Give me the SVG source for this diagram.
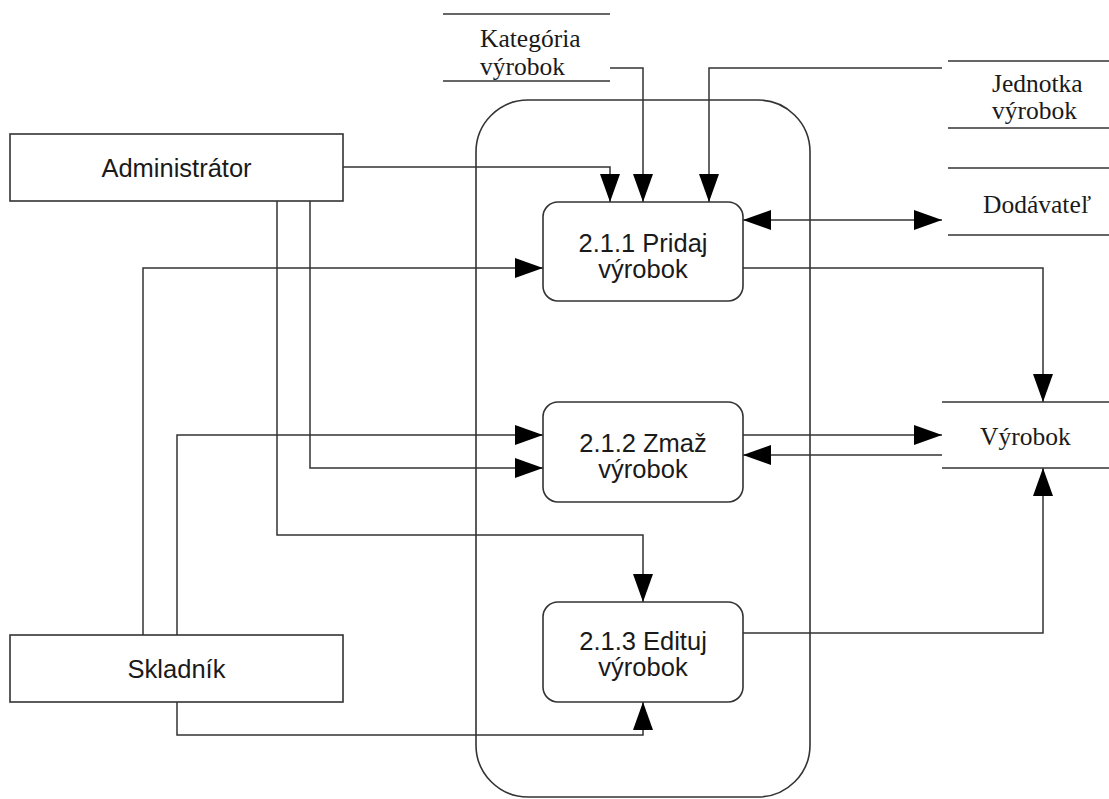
<svg xmlns="http://www.w3.org/2000/svg" width="1109" height="799" viewBox="0 0 1109 799">
  <style>
    .bg { fill: #ffffff; }
    .entity { fill: #ffffff; stroke: #333333; stroke-width: 1.6; }
    .proc { fill: #ffffff; stroke: #333333; stroke-width: 1.6; }
    .frame { fill: none; stroke: #333333; stroke-width: 1.6; }
    .store { stroke: #333333; stroke-width: 1.6; fill: none; }
    .flow { fill: none; stroke: #333333; stroke-width: 1.5; marker-end: url(#arrow); }
    .sans { font-family: "Liberation Sans", Arial, sans-serif; font-size: 25.5px; fill: #1a1a1a; text-anchor: middle; }
    .serif { font-family: "Liberation Serif", "Times New Roman", serif; font-size: 25.5px; fill: #1a1a1a; }
  </style>
  <defs>
    <marker id="arrow" markerUnits="userSpaceOnUse" markerWidth="28" markerHeight="20" refX="28" refY="10" orient="auto-start-reverse" viewBox="0 0 28 20">
      <path d="M0,0 L28,10 L0,20 z" fill="#000000"/>
    </marker>
  </defs>

  <rect class="bg" x="0" y="0" width="1109" height="799"/>

  <!-- process boundary -->
  <rect id="boundary" class="frame" x="476" y="100" width="334" height="697" rx="52" ry="52"/>

  <!-- connectors -->
  <g id="connectors">
    <!-- Administrator to Pridaj -->
    <path class="flow" d="M343,167 H610 V202"/>
    <!-- Kategoria to Pridaj -->
    <path class="flow" d="M610,68 H643 V202"/>
    <!-- Jednotka to Pridaj -->
    <path class="flow" d="M942,68 H709 V202"/>
    <!-- Pridaj <-> Dodavatel -->
    <path class="flow" style="marker-start: url(#arrow)" d="M743,220 H942"/>
    <!-- Pridaj to Vyrobok -->
    <path class="flow" d="M743,268 H1043 V402"/>
    <!-- Zmaz <-> Vyrobok -->
    <path class="flow" d="M743,435 H942"/>
    <path class="flow" d="M942,455 H743"/>
    <!-- Edituj to Vyrobok -->
    <path class="flow" d="M743,633 H1043 V468"/>
    <!-- Skladnik to Pridaj -->
    <path class="flow" d="M143,635 V268 H543"/>
    <!-- Skladnik to Zmaz -->
    <path class="flow" d="M177,635 V435 H543"/>
    <!-- Administrator to Zmaz -->
    <path class="flow" d="M310,201 V468 H543"/>
    <!-- Administrator to Edituj -->
    <path class="flow" d="M277,201 V535 H643 V602"/>
    <!-- Skladnik to Edituj -->
    <path class="flow" d="M177,702 V735 H643 V702"/>
  </g>

  <!-- external entities -->
  <g id="administrator">
    <rect class="entity" x="10" y="134" width="333" height="67"/>
    <text class="sans" x="176.5" y="177">Administrátor</text>
  </g>
  <g id="skladnik">
    <rect class="entity" x="10" y="635" width="333" height="67"/>
    <text class="sans" x="176.5" y="678">Skladník</text>
  </g>

  <!-- processes -->
  <g id="pridaj">
    <rect class="proc" x="543" y="202" width="200" height="99" rx="15" ry="15"/>
    <text class="sans" x="643" y="252">2.1.1 Pridaj</text>
    <text class="sans" x="643" y="278">výrobok</text>
  </g>
  <g id="zmaz">
    <rect class="proc" x="543" y="402" width="200" height="100" rx="15" ry="15"/>
    <text class="sans" x="643" y="452">2.1.2 Zmaž</text>
    <text class="sans" x="643" y="478">výrobok</text>
  </g>
  <g id="edituj">
    <rect class="proc" x="543" y="602" width="200" height="100" rx="15" ry="15"/>
    <text class="sans" x="643" y="650">2.1.3 Edituj</text>
    <text class="sans" x="643" y="676">výrobok</text>
  </g>

  <!-- data stores -->
  <g id="kategoria">
    <line class="store" x1="443" y1="14" x2="610" y2="14"/>
    <line class="store" x1="443" y1="81" x2="610" y2="81"/>
    <text class="serif" x="480" y="47">Kategória</text>
    <text class="serif" x="480" y="75">výrobok</text>
  </g>
  <g id="jednotka">
    <line class="store" x1="948" y1="61" x2="1109" y2="61"/>
    <line class="store" x1="948" y1="128" x2="1109" y2="128"/>
    <text class="serif" x="992" y="92">Jednotka</text>
    <text class="serif" x="992" y="119">výrobok</text>
  </g>
  <g id="dodavatel">
    <line class="store" x1="948" y1="168" x2="1109" y2="168"/>
    <line class="store" x1="948" y1="235" x2="1109" y2="235"/>
    <text class="serif" x="983" y="213">Dodávateľ</text>
  </g>
  <g id="vyrobok">
    <line class="store" x1="942" y1="402" x2="1109" y2="402"/>
    <line class="store" x1="942" y1="468" x2="1109" y2="468"/>
    <text class="serif" x="980" y="445">Výrobok</text>
  </g>
</svg>
